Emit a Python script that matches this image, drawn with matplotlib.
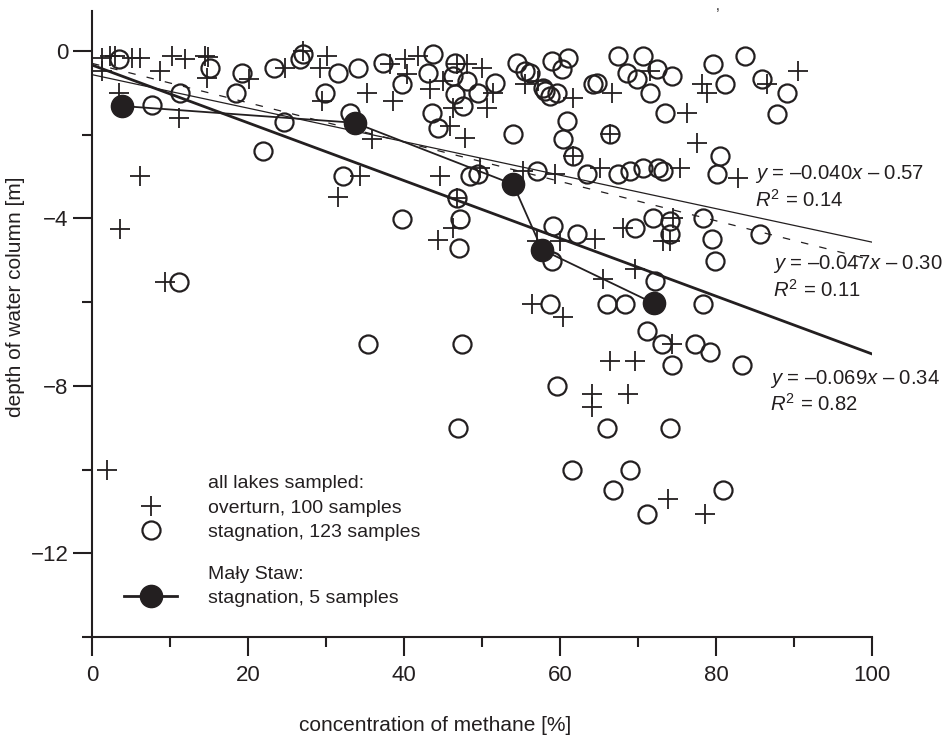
import matplotlib
matplotlib.use('Agg')
import matplotlib.pyplot as plt
from matplotlib.lines import Line2D
import numpy as np

plt.rcParams['font.family'] = ['Liberation Sans', 'DejaVu Sans']
plt.rcParams['mathtext.fontset'] = 'custom'
plt.rcParams['mathtext.rm'] = 'Liberation Sans'
plt.rcParams['mathtext.it'] = 'Liberation Sans:italic'
plt.rcParams['axes.unicode_minus'] = True

ink = '#231f20'

# overturn samples (all lakes) : methane %, depth m
over_x = [1.3, 1.3, 2.3, 3.0, 5.1, 6.2, 10.3, 11.9, 14.5, 14.9, 14.7, 8.7, 3.5, 11.2, 20.1, 24.7,
          27.1, 30.1, 29.2, 35.3, 38.6, 38.2, 40.1, 40.4, 41.8, 43.3, 45.0, 46.8, 48.1, 50.0,
          46.3, 45.9, 47.8, 35.9, 29.5, 44.6, 34.4, 50.6, 31.5, 6.2, 3.6, 1.9, 9.4,
          51.4, 55.5, 57.2, 61.7, 66.7, 71.5, 76.3, 66.4, 61.7, 75.4, 65.1, 59.4, 55.3,
          78.2, 78.8, 86.5, 90.5, 77.6, 82.8, 49.7,
          46.8, 44.4, 46.3, 57.1, 60.0, 64.5, 73.2, 68.1, 74.1, 74.5, 56.4, 60.4, 65.5, 69.6,
          74.4, 66.4, 69.6, 64.1, 64.1, 68.7, 73.8, 78.6]
over_y = [-0.17, -0.48, -0.12, -0.12, -0.17, -0.17, -0.12, -0.19, -0.12, -0.15, -0.65, -0.48, -1.0, -1.6, -0.67, -0.41,
          0.0, -0.12, -0.41, -1.0, -1.2, -0.31, -0.19, -0.55, -0.12, -0.91, -0.72, -0.31, -0.31, -0.41,
          -1.37, -1.8, -2.08, -2.1, -1.2, -3.0, -3.0, -1.37, -3.5, -3.0, -4.26, -10.0, -5.53,
          -1.0, -0.79, -0.72, -1.13, -1.0, -0.48, -1.49, -1.99, -2.51, -2.8, -2.8, -2.95, -2.87,
          -0.79, -1.0, -0.79, -0.48, -2.2, -3.04, -2.8,
          -3.52, -4.53, -4.24, -4.55, -4.55, -4.5, -4.55, -4.24, -4.55, -4.0, -6.04, -6.35, -5.44, -5.22,
          -7.0, -7.4, -7.4, -8.2, -8.5, -8.2, -10.7, -11.07]

# stagnation samples (all lakes)
stag_x = [3.5, 7.7, 11.3, 15.1, 19.2, 18.5, 23.3, 24.6, 21.9, 11.2,
          27.1, 26.7, 31.5, 34.1, 37.3, 39.7, 43.7, 43.1, 46.5, 46.3, 48.1, 49.5, 46.5, 47.6,
          43.6, 44.4, 29.9, 33.1, 32.2, 48.5, 49.5,
          54.5, 55.5, 56.2, 59.0, 61.0, 60.3, 58.1, 58.7, 59.6, 57.8, 64.2, 64.7, 67.4, 68.6,
          69.9, 70.6, 72.4, 71.5, 74.4, 73.5, 51.7, 54.0, 60.9, 60.4, 61.7, 66.4, 57.1, 63.5,
          67.4, 69.0, 70.6, 72.6, 73.2,
          79.6, 83.7, 81.2, 85.9, 89.1, 87.8, 80.5, 80.1,
          39.8, 47.1, 47.2, 46.8, 59.1, 62.2, 69.6, 71.9, 74.1, 74.1, 78.3, 85.6, 79.5, 79.9,
          59.0, 58.7, 66.0, 68.3, 78.3, 72.2, 71.2, 73.1, 77.3, 79.2, 74.4, 83.3,
          35.4, 47.4, 46.9, 59.6, 66.0, 74.1, 61.5, 69.0, 66.8, 71.2, 80.9]
stag_y = [-0.19, -1.29, -1.0, -0.41, -0.53, -1.0, -0.41, -1.7, -2.4, -5.53,
          -0.07, -0.19, -0.53, -0.41, -0.29, -0.79, -0.07, -0.53, -0.29, -0.6, -0.72, -1.0, -1.03, -1.32,
          -1.49, -1.84, -1.0, -1.49, -3.0, -3.0, -2.95,
          -0.29, -0.48, -0.53, -0.24, -0.17, -0.43, -0.96, -1.08, -1.0, -0.89, -0.79, -0.77, -0.12, -0.53,
          -0.67, -0.12, -0.43, -1.0, -0.6, -1.49, -0.77, -1.99, -1.68, -2.1, -2.51, -1.99, -2.87, -2.95,
          -2.95, -2.87, -2.8, -2.8, -2.87,
          -0.31, -0.12, -0.79, -0.67, -1.0, -1.51, -2.51, -2.95,
          -4.02, -4.72, -4.02, -3.52, -4.19, -4.38, -4.24, -4.0, -4.07, -4.38, -4.0, -4.38, -4.5, -5.03,
          -5.03, -6.04, -6.04, -6.04, -6.04, -5.5, -6.7, -7.0, -7.0, -7.2, -7.5, -7.5,
          -7.0, -7.0, -9.0, -8.0, -9.0, -9.0, -10.0, -10.0, -10.5, -11.07, -10.5]

# Maly Staw, stagnation
maly_x = [3.9, 33.7, 54.0, 57.7, 72.0]
maly_y = [-1.32, -1.72, -3.19, -4.75, -6.03]

# regression lines (slope, intercept) and their labels
fit_all = (-0.040, -0.57)
fit_stag = (-0.047, -0.30)
fit_maly = (-0.069, -0.34)

fig = plt.figure(figsize=(9.43, 7.44), dpi=100)
ax = fig.add_axes([92/943, 107/744, 780/943, 626/744])

ax.plot(over_x, over_y, ls='none', marker='+', ms=14, mew=1.3, color=ink)
ax.plot(stag_x, stag_y, ls='none', marker='o', ms=13, mew=1.6, mfc='none', mec=ink)

xx = np.array([0, 100])
ax.plot(xx, fit_all[0]*xx + fit_all[1], color=ink, lw=0.9)
ax.plot(xx, fit_stag[0]*xx + fit_stag[1], color=ink, lw=0.9, ls=(0, (6, 9)))
ax.plot(xx, fit_maly[0]*xx + fit_maly[1], color=ink, lw=2.0)

ax.plot(maly_x, maly_y, color=ink, lw=1.3, marker='o', ms=16, mfc=ink, mec=ink)

def eq_text(x, y, fit, r2):
    ax.text(x, y, '$y$ = \u2013%.3f$x$ \u2013 %.2f' % (abs(fit[0]), abs(fit[1])),
            fontsize=14.6, color=ink, ha='left', va='center')
    ax.text(x, y - 0.6, '$R^2$ = %.2f' % r2, fontsize=14.6, color=ink, ha='left', va='center')

eq_text(85.0, -2.95, fit_all, 0.14)
eq_text(87.3, -5.1, fit_stag, 0.11)
eq_text(86.9, -7.83, fit_maly, 0.82)

ax.set_xlim(0, 100)
ax.set_ylim(-14, 0.95)
ax.set_xticks([0, 20, 40, 60, 80, 100])
ax.set_xticks([10, 30, 50, 70, 90], minor=True)
ax.set_yticks([-12, -8, -4, 0])
ax.set_yticks([-14, -10, -6, -2], minor=True)
ax.tick_params(which='both', direction='out', color=ink, width=1.5, labelsize=16, labelcolor=ink)
ax.tick_params(which='major', length=14)
ax.tick_params(which='minor', length=7.5)
ax.tick_params(axis='x', pad=6)
ax.tick_params(axis='y', pad=3)
for s in ['top', 'right']:
    ax.spines[s].set_visible(False)
for s in ['left', 'bottom']:
    ax.spines[s].set_linewidth(1.5)
    ax.spines[s].set_color(ink)

ax.set_xlabel('concentration of methane [%]', fontsize=15, color=ink)
ax.xaxis.set_label_coords(0.44, -0.126)
ax.set_ylabel('depth of water column [m]', fontsize=15, color=ink)
ax.yaxis.set_label_coords(-0.086, 0.543)

blank = Line2D([], [], ls='none')
h_over = Line2D([], [], ls='none', marker='+', ms=14, mew=1.3, color=ink)
h_stag = Line2D([], [], ls='none', marker='o', ms=13, mew=1.6, mfc='none', mec=ink)
h_maly = Line2D([], [], color=ink, lw=2, marker='o', ms=16, mfc=ink, mec=ink)

leg1 = ax.legend([blank, h_over, h_stag],
                 ['all lakes sampled:', 'overturn, 100 samples', 'stagnation, 123 samples'],
                 loc='upper left', bbox_to_anchor=(0.041, 0.259), frameon=False, fontsize=14,
                 borderpad=0, borderaxespad=0, handlelength=2.73, handletextpad=1.6,
                 labelspacing=0.33, labelcolor=ink)
ax.add_artist(leg1)
ax.legend([blank, h_maly], ['Mały Staw:', 'stagnation, 5 samples'],
          loc='upper left', bbox_to_anchor=(0.041, 0.115), frameon=False, fontsize=14,
          borderpad=0, borderaxespad=0, handlelength=2.73, handletextpad=1.6,
          labelspacing=0.33, labelcolor=ink)

fig.text(718/943, 1 - 6/744, ',', fontsize=10, color=ink, ha='center', va='center')

fig.savefig('out.png', dpi=100)
